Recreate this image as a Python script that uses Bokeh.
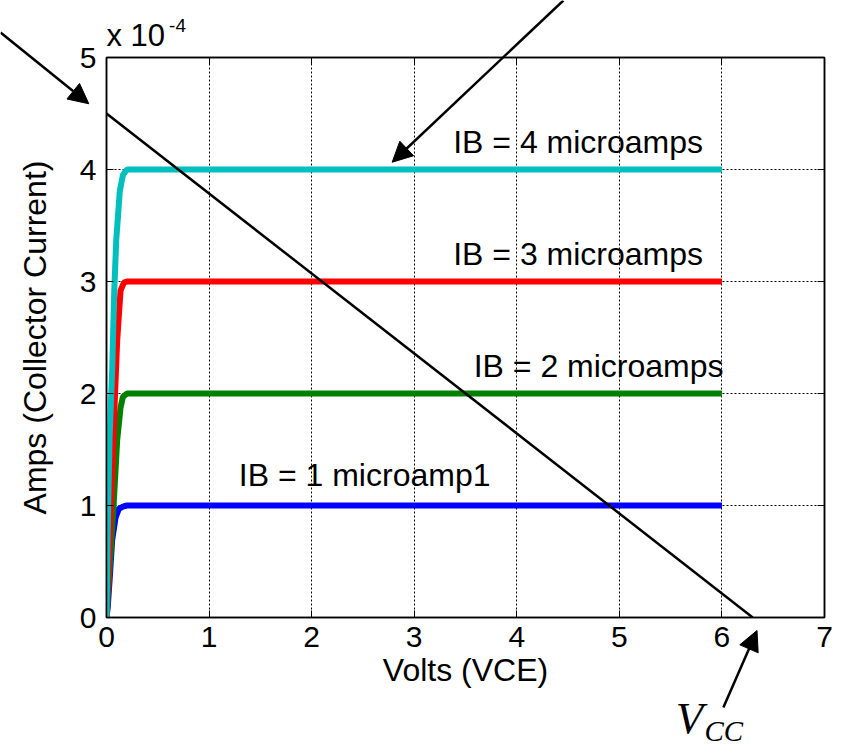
from bokeh.plotting import figure
from bokeh.layouts import column
from bokeh.models import (Range1d, LinearAxis, Label, Arrow, NormalHead,
                          FixedTicker, CustomJSTickFormatter)
from bokeh.embed import file_html
from bokeh.resources import INLINE

# Transistor output characteristics: collector current (A) vs. VCE (V)
vce_ib1 = [0.0, 0.012, 0.035, 0.055, 0.088, 0.12, 0.16, 0.2, 6.0]
ic_ib1 = [0.0, 0.09e-4, 0.40e-4, 0.69e-4, 0.89e-4, 0.97e-4, 0.99e-4, 1.0e-4, 1.0e-4]

vce_ib2 = [0.0, 0.035, 0.068, 0.104, 0.137, 0.16, 0.2, 6.0]
ic_ib2 = [0.0, 0.50e-4, 0.98e-4, 1.58e-4, 1.875e-4, 1.97e-4, 2.0e-4, 2.0e-4]

vce_ib3 = [0.0, 0.03, 0.055, 0.078, 0.104, 0.137, 0.17, 0.2, 6.0]
ic_ib3 = [0.0, 0.69e-4, 1.28e-4, 1.875e-4, 2.47e-4, 2.92e-4, 2.99e-4, 3.0e-4, 3.0e-4]

vce_ib4 = [0.0, 0.01, 0.03, 0.055, 0.075, 0.095, 0.13, 0.16, 0.2, 6.0]
ic_ib4 = [0.0, 0.7e-4, 1.6e-4, 2.2e-4, 2.9e-4, 3.37e-4, 3.81e-4, 3.95e-4, 4.0e-4, 4.0e-4]

# Load line between (0, VCC/RC) and (VCC, 0)
vcc = 6.3
ic_sat = 4.5e-4
load_v = [0.0, vcc]
load_i = [ic_sat, 0.0]

curve_labels = ["IB = 1 microamp1", "IB = 2 microamps", "IB = 3 microamps", "IB = 4 microamps"]
curve_label_x = [1.29, 3.58, 3.38, 3.38]
curve_label_y = [1.268e-4, 2.246e-4, 3.246e-4, 4.246e-4]

x_ticks = [0, 1, 2, 3, 4, 5, 6, 7]
y_ticks = [0.0, 1e-4, 2e-4, 3e-4, 4e-4, 5e-4]

FONT = "Liberation Sans"
W, H = 846, 749
B_LEFT, B_RIGHT, B_TOP, B_BOTTOM = 106, 22, 57, 132
X0, X1 = 0.0, 7.0
Y0, Y1 = 0.0, 5e-4

fig = figure(width=W, height=H, output_backend="svg", toolbar_location=None,
             x_range=Range1d(X0, X1), y_range=Range1d(Y0, Y1),
             min_border_left=B_LEFT, min_border_right=B_RIGHT,
             min_border_top=B_TOP, min_border_bottom=B_BOTTOM,
             background_fill_color="white", border_fill_color="white",
             frame_align=False)
fig.outline_line_color = "black"
fig.outline_line_width = 1.5

xt = FixedTicker(ticks=x_ticks)
yt = FixedTicker(ticks=y_ticks)
fig.xaxis.ticker = xt
fig.yaxis.ticker = yt
fig.yaxis.formatter = CustomJSTickFormatter(code="return (tick * 1e4).toFixed(0);")

for ax in (fig.xaxis[0], fig.yaxis[0]):
    ax.major_tick_in = 7
    ax.major_tick_out = 0
    ax.minor_tick_line_color = None
    ax.axis_line_width = 1.5
    ax.axis_line_color = "black"
    ax.major_tick_line_color = "black"
    ax.major_label_text_font = FONT
    ax.major_label_text_font_size = "30px"
    ax.major_label_text_color = "black"
    ax.axis_label_text_font = FONT
    ax.axis_label_text_font_size = "32px"
    ax.axis_label_text_font_style = "normal"
    ax.axis_label_text_color = "black"

fig.xaxis.axis_label = "Volts (VCE)"
fig.yaxis.axis_label = "Amps (Collector Current)"
fig.xaxis.major_label_standoff = 9
fig.yaxis.major_label_standoff = 10
fig.xaxis.axis_label_standoff = 2
fig.yaxis.axis_label_standoff = 24

# Box-style axes on the top and right, ticks only
blank = CustomJSTickFormatter(code="return '';")
for side, ticker in (("above", xt), ("right", yt)):
    ax = LinearAxis(ticker=ticker, formatter=blank,
                    major_tick_in=7, major_tick_out=0,
                    minor_tick_line_color=None, axis_line_width=1.5,
                    major_label_standoff=0)
    fig.add_layout(ax, side)

for g in (fig.xgrid[0], fig.ygrid[0]):
    g.grid_line_color = "black"
    g.grid_line_dash = "2 2"
    g.grid_line_width = 1

fig.line(vce_ib1, ic_ib1, line_color="#0000FF", line_width=6)
fig.line(vce_ib2, ic_ib2, line_color="#008000", line_width=6)
fig.line(vce_ib3, ic_ib3, line_color="#FF0000", line_width=6)
fig.line(vce_ib4, ic_ib4, line_color="#00BFBF", line_width=6)
fig.line(load_v, load_i, line_color="black", line_width=2.5)

for t, x, y in zip(curve_labels, curve_label_x, curve_label_y):
    fig.add_layout(Label(x=x, y=y, text=t, text_font=FONT, text_font_size="32px",
                         text_baseline="middle", text_color="black"))

# Transparent overlay spanning the whole canvas, sharing the same data
# coordinates, so notes and arrows can sit in the margins around the axes.
x_per_px = (X1 - X0) / (W - B_LEFT - B_RIGHT)
y_per_px = (Y1 - Y0) / (H - B_TOP - B_BOTTOM)
over = figure(width=W, height=H, output_backend="svg", toolbar_location=None,
              x_range=Range1d(X0 - B_LEFT * x_per_px, X1 + B_RIGHT * x_per_px),
              y_range=Range1d(Y0 - B_BOTTOM * y_per_px, Y1 + B_TOP * y_per_px),
              min_border=0, x_axis_type=None, y_axis_type=None,
              background_fill_alpha=0, border_fill_alpha=0,
              outline_line_color=None, margin=(-H, 0, 0, 0),
              frame_align=False)
over.xgrid.visible = False
over.ygrid.visible = False

# Axis multiplier
over.add_layout(Label(x=0.0, y=5.196e-4, text="x 10", text_font=FONT,
                      text_font_size="31px", text_baseline="middle",
                      text_color="black"))
over.add_layout(Label(x=0.61, y=5.285e-4, text="-4", text_font=FONT,
                      text_font_size="19px", text_baseline="middle",
                      text_color="black"))

# VCC annotation
over.add_layout(Label(x=5.55, y=-0.893e-4, text="V", text_font="Liberation Serif",
                      text_font_style="italic", text_font_size="45px",
                      text_baseline="middle", text_color="black"))
over.add_layout(Label(x=5.83, y=-1.015e-4, text="CC", text_font="Liberation Serif",
                      text_font_style="italic", text_font_size="29px",
                      text_baseline="middle", text_color="black"))

# Pointer arrows: saturation current, IB = 4 curve, and VCC
arrows = [(-1.033, 5.223e-4, -0.1725, 4.587e-4),
          (4.454, 5.509e-4, 2.785, 4.065e-4),
          (6.014, -0.804e-4, 6.342, -0.116e-4)]
for xs, ys, xe, ye in arrows:
    over.add_layout(Arrow(x_start=xs, y_start=ys, x_end=xe, y_end=ye,
                          line_width=2.5, line_color="black",
                          end=NormalHead(size=20, fill_color="black",
                                         line_color="black")))

p = column(fig, over, spacing=0)
open("out.html", "w").write(file_html(p, INLINE))
